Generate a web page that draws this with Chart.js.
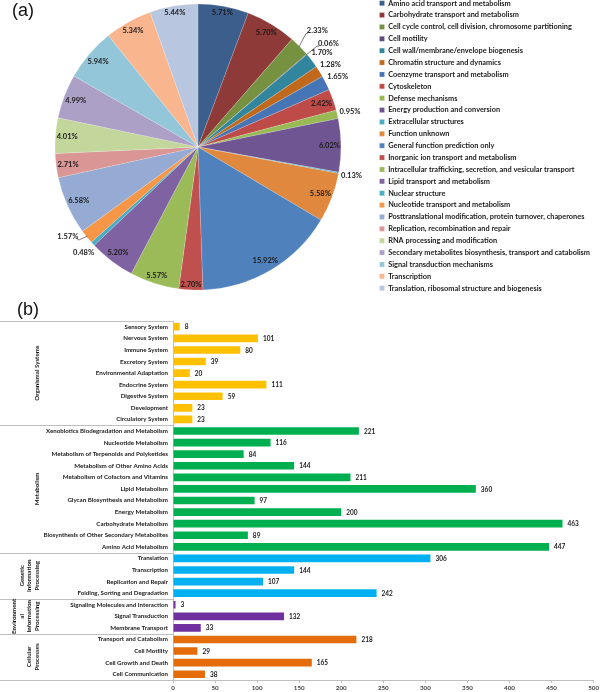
<!DOCTYPE html>
<html><head><meta charset="utf-8">
<script src="https://cdn.jsdelivr.net/npm/chart.js@4.4.1/dist/chart.umd.min.js"></script>
<style>
html,body{margin:0;padding:0;background:#fff;}
#wrap{position:relative;width:600px;height:692px;overflow:hidden;background:#fff;}
#pieBox{position:absolute;left:0;top:-5px;width:600px;height:304px;}
#barBox{position:absolute;left:0;top:300px;width:600px;height:392px;}
.tag{position:absolute;font-family:"Liberation Sans",Arial,sans-serif;font-size:18px;color:#111;line-height:18px;}
</style></head><body>
<div id="wrap">
<div id="pieBox"><canvas id="pie" width="600" height="304"></canvas></div>
<div id="barBox"><canvas id="bar" width="600" height="392"></canvas></div>
<div class="tag" style="left:12px;top:1px;">(a)</div>
<div class="tag" style="left:17px;top:300px;">(b)</div>
</div>
<script>
// ---------- (a) COG categories ----------
const cogLabels = [
 'Amino acid transport and metabolism',
 'Carbohydrate transport and metabolism',
 'Cell cycle control, cell division, chromosome partitioning',
 'Cell motility',
 'Cell wall/membrane/envelope biogenesis',
 'Chromatin structure and dynamics',
 'Coenzyme transport and metabolism',
 'Cytoskeleton',
 'Defense mechanisms',
 'Energy production and conversion',
 'Extracellular structures',
 'Function unknown',
 'General function prediction only',
 'Inorganic ion transport and metabolism',
 'Intracellular trafficking, secretion, and vesicular transport',
 'Lipid transport and metabolism',
 'Nuclear structure',
 'Nucleotide transport and metabolism',
 'Posttranslational modification, protein turnover, chaperones',
 'Replication, recombination and repair',
 'RNA processing and modification',
 'Secondary metabolites biosynthesis, transport and catabolism',
 'Signal transduction mechanisms',
 'Transcription',
 'Translation, ribosomal structure and biogenesis'
];
const cogPercent = [5.71,5.70,2.33,0.06,1.70,1.28,1.65,2.42,0.95,6.02,0.13,5.58,15.92,2.70,5.57,5.20,0.48,1.57,6.58,2.71,4.01,4.99,5.94,5.34,5.44];
const cogColors = ['#3B5E8C','#8E3A38','#76913F','#5E4A7E','#31859C','#C0691C','#4675B6','#BE4B48','#98B954','#6F5692','#4BACC6','#E0893E','#4F81BD','#C0504D','#9BBB59','#7F62A1','#4BACC6','#F79646','#95ABD4','#D99694','#C3D69B','#ADA0C6','#93C6D8','#F9B58E','#B9C6E0'];
// outside labels that were nudged away from their slice (drawn with a leader line)
const leaderShift = {
  'Cell cycle control, cell division, chromosome partitioning': [9, -7],
  'Cell motility': [12, -3],
  'Nucleotide transport and metabolism': [-9, -8]
};

// ---------- (b) KEGG pathways ----------
const groupNames = ['Organismal Systems','Metabolism','Genetic Information Processing','Environmental Information Processing','Cellular Processes'];
const groupLines = [['Organismal Systems'],['Metabolism'],['Genetic','Information','Processing'],['Environment','al','Information','Processing'],['Cellular','Processes']];
const groupColors = ['#FFC000','#00B050','#00B0F0','#7030A0','#E46C0A'];
const organismalLabels = ['Sensory System','Nervous System','Immune System','Excretory System','Environmental Adaptation','Endocrine System','Digestive System','Development','Circulatory System'];
const organismalValues = [8,101,80,39,20,111,59,23,23];
const metabolismLabels = ['Xenobiotics Biodegradation and Metabolism','Nucleotide Metabolism','Metabolism of Terpenoids and Polyketides','Metabolism of Other Amino Acids','Metabolism of Cofactors and Vitamins','Lipid Metabolism','Glycan Biosynthesis and Metabolism','Energy Metabolism','Carbohydrate Metabolism','Biosynthesis of Other Secondary Metabolites','Amino Acid Metabolism'];
const metabolismValues = [221,116,84,144,211,360,97,200,463,89,447];
const geneticLabels = ['Translation','Transcription','Replication and Repair','Folding, Sorting and Degradation'];
const geneticValues = [306,144,107,242];
const environmentalLabels = ['Signaling Molecules and Interaction','Signal Transduction','Membrane Transport'];
const environmentalValues = [3,132,33];
const cellularLabels = ['Transport and Catabolism','Cell Motility','Cell Growth and Death','Cell Communication'];
const cellularValues = [218,29,165,38];
const xTicks = [0,50,100,150,200,250,300,350,400,450,500];

const FONT = 'Lato';
Chart.defaults.font.family = FONT;
Chart.defaults.color = '#262626';

// ---------- pie ----------
// legend font sized so that the longest entry spans ~202px, as in the reference
const mctx = document.createElement('canvas').getContext('2d');
mctx.font = 'bold 10px ' + FONT;
const w10 = Math.max(...cogLabels.map(s => mctx.measureText(s).width));
const legendFontSize = Math.min(9, 10 * 202 / w10);
const legendPad = 11.875 - legendFontSize, legendBox = 5;
const targetCX = 198;

const pieLabelPlugin = {
  id: 'pieLabels',
  afterDatasetsDraw(chart){
    const ctx = chart.ctx; const meta = chart.getDatasetMeta(0);
    ctx.save();
    ctx.font = 'bold 7.5px ' + FONT; ctx.fillStyle = '#1a1a1a'; ctx.textBaseline = 'middle'; ctx.textAlign = 'center';
    ctx.strokeStyle = '#404040'; ctx.lineWidth = 0.7;
    meta.data.forEach((arc, i) => {
      const v = cogPercent[i]; const txt = v.toFixed(2) + '%';
      const p = arc.getProps(['x','y','startAngle','endAngle','outerRadius'], true);
      const mid = (p.startAngle + p.endAngle)/2; const ux = Math.cos(mid), uy = Math.sin(mid);
      const w = ctx.measureText(txt).width, h = 8, r = p.outerRadius;
      const half = Math.abs(ux)*w/2 + Math.abs(uy)*h/2;
      if (v >= 2.4) {
        const d = r - 1 - half;
        ctx.fillText(txt, p.x + ux*d, p.y + uy*d);
      } else {
        const d = r + 2 + half;
        let cx = p.x + ux*d, cy = p.y + uy*d;
        const sh = leaderShift[cogLabels[i]];
        if (sh) {
          cx += sh[0]; cy += sh[1];
          const ex = p.x + ux*(r-1), ey = p.y + uy*(r-1);
          const side = ux >= 0 ? cx - w/2 - 1 : cx + w/2 + 1;
          ctx.beginPath();
          ctx.moveTo(ex, ey);
          ctx.lineTo(side, cy + 3);
          ctx.lineTo(ux >= 0 ? side + 2 : side - 2, cy + 3);
          ctx.stroke();
        }
        ctx.fillText(txt, cx, cy);
      }
    });
    ctx.restore();
  }
};

const pieChart = new Chart(document.getElementById('pie'), {
  type: 'pie',
  data: { labels: cogLabels, datasets: [{ data: cogPercent, backgroundColor: cogColors, borderColor: 'rgba(255,255,255,0.35)', borderWidth: 0.5, radius: 143 }] },
  options: {
    responsive: false, animation: false,
    layout: { padding: { left: 20, right: 0, top: 0, bottom: 0 } },
    plugins: {
      legend: { position: 'right', align: 'start',
        labels: { boxWidth: legendBox, boxHeight: legendBox, padding: legendPad, color: '#1a1a1a',
          font: { family: FONT, size: legendFontSize, weight: 'bold' } } },
      tooltip: { enabled: false }
    }
  },
  plugins: [pieLabelPlugin]
});
// put the legend's boxes at x≈381 and the pie centre at x=198
{
  const pad = pieChart.options.layout.padding;
  const wanted = 381 - legendPad;
  pad.right = Math.max(0, pad.right + (pieChart.legend.left - wanted));
  pieChart.update();
  pad.left = 2*targetCX - pieChart.legend.left;
  pieChart.update();
}

// ---------- bar ----------
const groupLabelSets = [organismalLabels, metabolismLabels, geneticLabels, environmentalLabels, cellularLabels];
const groupValueSets = [organismalValues, metabolismValues, geneticValues, environmentalValues, cellularValues];
const barLabels = [].concat(...groupLabelSets);
const barValues = [].concat(...groupValueSets);
const barColors = [].concat(...groupLabelSets.map((g, gi) => g.map(() => groupColors[gi])));
const groupStarts = []; { let c = 0; groupLabelSets.forEach(g => { groupStarts.push(c); c += g.length; }); }

const LINE = '#BFBFBF';
const barPlugin = {
  id: 'barDecor',
  afterDatasetsDraw(chart){
    const ctx = chart.ctx; const meta = chart.getDatasetMeta(0);
    ctx.save();
    ctx.font = 'bold 6.5px ' + FONT; ctx.fillStyle = '#1a1a1a'; ctx.textBaseline = 'middle'; ctx.textAlign = 'left';
    meta.data.forEach((bar, i) => { ctx.fillText(String(barValues[i]), bar.x + 5, bar.y + 0.5); });
    const ys = chart.scales.y; const left = chart.chartArea.left;
    ctx.strokeStyle = LINE; ctx.lineWidth = 1;
    const boundaries = [ys.top];
    groupStarts.slice(1).forEach(s => boundaries.push((ys.getPixelForValue(s-1) + ys.getPixelForValue(s))/2));
    boundaries.push(ys.bottom);
    boundaries.forEach(b => { const y = Math.round(b) + 0.5; ctx.beginPath(); ctx.moveTo(0, y); ctx.lineTo(left, y); ctx.stroke(); });
    ctx.font = 'bold 6.2px ' + FONT; ctx.textAlign = 'center';
    groupLines.forEach((lines, gi) => {
      const cy = (boundaries[gi] + boundaries[gi+1])/2;
      const n = lines.length;
      lines.forEach((t, li) => {
        const x = 37 - (n - 1 - li)*7.6;
        ctx.save(); ctx.translate(x, cy); ctx.rotate(-Math.PI/2); ctx.fillText(t, 0, 0); ctx.restore();
      });
    });
    ctx.restore();
  }
};

new Chart(document.getElementById('bar'), {
  type: 'bar',
  data: { labels: barLabels, datasets: [{ data: barValues, backgroundColor: barColors, borderWidth: 0, barPercentage: 0.66, categoryPercentage: 1 }] },
  options: {
    indexAxis: 'y', responsive: false, animation: false,
    layout: { padding: { left: 0, right: 6, top: 21, bottom: 0 } },
    plugins: { legend: { display: false }, tooltip: { enabled: false } },
    scales: {
      x: { min: 0, max: 500, afterFit: s => { s.height = 12; },
        afterBuildTicks: s => { s.ticks = xTicks.map(v => ({ value: v })); },
        ticks: { font: { family: FONT, size: 6.2, weight: 'bold' }, color: '#404040', padding: 1, maxRotation: 0 },
        grid: { drawOnChartArea: false, drawTicks: true, tickLength: 3, color: LINE },
        border: { display: true, color: LINE } },
      y: { afterFit: s => { s.width = 173; },
        ticks: { autoSkip: false, font: { family: FONT, size: 6.2, weight: 'bold' }, color: '#1a1a1a', padding: 5 },
        grid: { display: false, drawTicks: false },
        border: { display: true, color: LINE } }
    }
  },
  plugins: [barPlugin]
});
</script>
</body></html>
